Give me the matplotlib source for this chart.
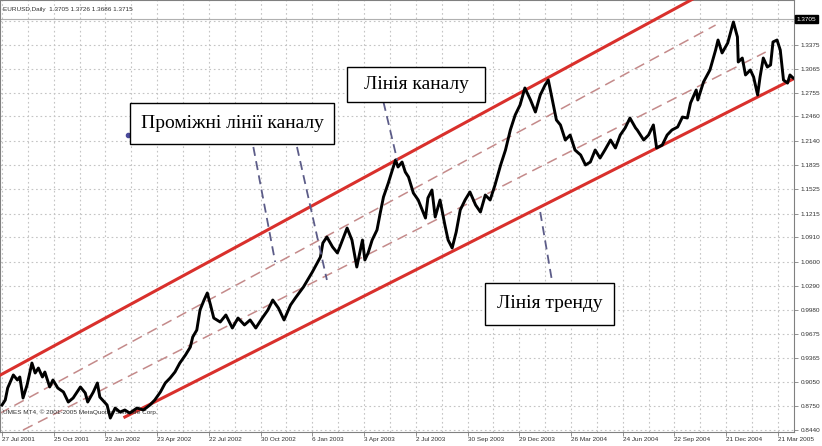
import matplotlib
matplotlib.use("Agg")
import matplotlib.pyplot as plt
from matplotlib.patches import Rectangle

W, H = 822, 446

# EURUSD daily (bar index, price)
bars = [0, 4, 7, 14, 19, 22, 26, 31, 37, 41, 45, 50, 53, 59, 63, 69, 76, 82, 88, 97,
        103, 106, 113, 118, 121, 130, 134, 140, 146, 152, 158, 167, 175, 183, 189, 196, 202, 208, 214, 220,
        227, 233, 236, 241, 245, 250, 254, 258, 262, 270, 277, 285, 292, 300, 307, 314, 322, 329, 335, 342,
        349, 357, 363, 373, 384, 394, 397, 402, 409, 415, 418, 427, 433, 439, 446, 449, 453, 458, 464, 468,
        472, 478, 483, 487, 490, 495, 499, 503, 509, 515, 520, 524, 527, 532, 536, 542, 548, 552, 557, 562,
        567, 573, 579, 586, 592, 598, 604, 610, 617, 623, 629, 635, 641, 647, 654, 660, 666, 672, 676, 681,
        686, 691, 697, 703, 709, 716, 722, 728, 734, 740, 746, 753, 759, 765, 771, 777, 784, 786, 794, 800,
        806, 810, 817, 823, 829, 836, 842, 848, 852, 859, 861, 868, 876, 883, 886, 891, 898, 904, 905, 910,
        911, 916, 920, 926, 930, 935, 938, 942, 947, 951, 954, 959, 963, 967, 972, 975, 979]
prices = [0.8761, 0.8825, 0.8979, 0.9146, 0.9082, 0.9120, 0.8851, 0.9017, 0.9299, 0.9171,
          0.9235, 0.9120, 0.9184, 0.8992, 0.9082, 0.8979, 0.8928, 0.8799, 0.8851, 0.8992,
          0.8915, 0.8799, 0.8928, 0.9043, 0.8863, 0.8761, 0.8594, 0.8722, 0.8671, 0.8697,
          0.8658, 0.8722, 0.8697, 0.8761, 0.8825, 0.8928, 0.9043, 0.9107, 0.9184, 0.9299,
          0.9402, 0.9504, 0.9633, 0.9722, 0.9979, 1.0107, 1.0197, 1.0043, 0.9876, 0.9825,
          0.9915, 0.9748, 0.9876, 0.9787, 0.9851, 0.9748, 0.9876, 0.9979, 1.0107, 1.0004,
          0.9851, 1.0043, 1.0133, 1.0274, 1.0466, 1.0658, 1.0838, 1.0915, 1.0787, 1.0710,
          1.0787, 1.1030, 1.0876, 1.0530, 1.0876, 1.0620, 1.0710, 1.0876, 1.1005, 1.1222,
          1.1427, 1.1607, 1.1774, 1.1902, 1.1812, 1.1876, 1.1748, 1.1684, 1.1479, 1.1389,
          1.1261, 1.1158, 1.1415, 1.1517, 1.1171, 1.1389, 1.1069, 1.0876, 1.0774, 1.0979,
          1.1261, 1.1389, 1.1492, 1.1325, 1.1235, 1.1453, 1.1389, 1.1581, 1.1838, 1.2030,
          1.2287, 1.2479, 1.2607, 1.2825, 1.2671, 1.2517, 1.2735, 1.2863, 1.2927, 1.2671,
          1.2415, 1.2351, 1.2158, 1.2222, 1.2030, 1.1966, 1.1838, 1.1876, 1.2030, 1.1927,
          1.2030, 1.2158, 1.2056, 1.2222, 1.2312, 1.2440, 1.2312, 1.2287, 1.2158, 1.2222,
          1.2351, 1.2056, 1.2094, 1.2222, 1.2287, 1.2325, 1.2453, 1.2440, 1.2633, 1.2799,
          1.2671, 1.2902, 1.3056, 1.3312, 1.3440, 1.3274, 1.3402, 1.3632, 1.3671, 1.3479,
          1.3158, 1.3209, 1.2992, 1.3056, 1.2966, 1.2735, 1.2966, 1.3209, 1.3094, 1.3120,
          1.3415, 1.3440, 1.3312, 1.2927, 1.2888, 1.2992, 1.2953]

# channel lines (start bar, start price, end bar, end price)
upper_channel = [-3, 0.9140, 864, 1.4017]
trend_line = [152, 0.8607, 979, 1.2940]
mid_upper = [-3, 0.8652, 883, 1.3632]
mid_lower = [26, 0.8440, 945, 1.3286]

# pointer lines of the callouts
pointers = [
    [311, 1.2069, 338, 1.0594],
    [365, 1.2069, 402, 1.0364],
    [472, 1.2645, 489, 1.1902],
    [666, 1.1235, 681, 1.0325],
]

xtick_labels = ["27 Jul 2001", "25 Oct 2001", "23 Jan 2002", "23 Apr 2002", "22 Jul 2002",
                "30 Oct 2002", "6 Jan 2003", "3 Apr 2003", "2 Jul 2003", "30 Sep 2003",
                "29 Dec 2003", "26 Mar 2004", "24 Jun 2004", "22 Sep 2004", "21 Dec 2004",
                "21 Mar 2005"]
ytick_labels = ["1.3375", "1.3065", "1.2755", "1.2460", "1.2140", "1.1835", "1.1525", "1.1215",
                "1.0910", "1.0600", "1.0290", "0.9980", "0.9675", "0.9365", "0.9050", "0.8750",
                "0.8440"]
bid = 1.3705

fig = plt.figure(figsize=(W / 100, H / 100), dpi=100)
ax = fig.add_axes([0, 14 / H, 794 / W, 432 / H])
ax.set_xlim(-2.5, 980)
ax.set_ylim(0.8415, 1.3953)

# grid
grid_kw = dict(color="#c4c4c4", linestyle=(0, (1.5, 2.5)), linewidth=0.8, zorder=0)
for i in range(31):
    ax.axvline(32 * i, **grid_kw)
for v in ytick_labels + ["1.3685"]:
    ax.axhline(float(v), **grid_kw)
ax.axhline(bid, color="#b0b0b0", linewidth=0.8, zorder=0)

# channel
ax.plot(upper_channel[0::2], upper_channel[1::2], color="#d9302c", lw=2.2, zorder=3)
ax.plot(trend_line[0::2], trend_line[1::2], color="#d9302c", lw=2.2, zorder=3)
for ln in (mid_upper, mid_lower):
    ax.plot(ln[0::2], ln[1::2], color="#c48a8a", lw=1.1, dashes=(7, 4), zorder=2)

ax.plot(bars, prices, color="black", lw=2.1, zorder=4)

for p in pointers:
    ax.plot(p[0::2], p[1::2], color="#5c5c88", lw=1.3, dashes=(5, 3), zorder=5)
ax.plot([156], [1.2222], "o", color="#4a4a9a", ms=3, zorder=5)

# axes styling
for s in ax.spines.values():
    s.set_color("#808080")
    s.set_linewidth(0.8)
ax.yaxis.tick_right()
ax.set_yticks([float(v) for v in ytick_labels])
ax.set_yticklabels(ytick_labels)
ax.set_xticks([64 * i for i in range(len(xtick_labels))])
ax.set_xticklabels(xtick_labels, ha="left")
ax.tick_params(axis="y", length=3, width=0.6, color="#808080", pad=1.5,
               labelsize=4.6, labelcolor="#303030")
ax.tick_params(axis="x", length=3, width=0.6, color="#808080", pad=0.5,
               labelsize=4.6, labelcolor="#303030")
for lab in ax.get_xticklabels() + ax.get_yticklabels():
    lab.set_fontfamily("Liberation Sans")

ax.text(1.003, (bid - 0.8415) / (1.3953 - 0.8415), f"{bid:.4f}", transform=ax.transAxes,
        fontsize=4.6, color="white", va="center", ha="left", family="Liberation Sans",
        bbox=dict(boxstyle="square,pad=0.25", fc="black", ec="black"))

ax.text(3 / 794, 1 - 9 / 432, "EURUSD,Daily  1.3705 1.3726 1.3686 1.3715", transform=ax.transAxes,
        fontsize=4.6, color="#303030", va="center", ha="left", family="Liberation Sans")
ax.text(3 / 794, 1 - 412 / 432, "UMES MT4, \u00a9 2001-2005 MetaQuotes Software Corp.",
        transform=ax.transAxes, fontsize=4.6, color="#303030", va="center", ha="left",
        family="Liberation Sans")

# callout boxes: (left, top, right, bottom) in pixels, text
callouts = [
    ((130, 103, 334, 144), "Проміжні лінії каналу"),
    ((347, 67, 485, 102), "Лінія каналу"),
    ((485, 283, 614, 325), "Лінія тренду"),
]
for (l, t, r, b), txt in callouts:
    fig.patches.append(Rectangle((l / W, 1 - b / H), (r - l) / W, (b - t) / H,
                                 transform=fig.transFigure, fc="white", ec="black",
                                 lw=1.0, zorder=10))
    fig.text((l + r) / 2 / W, 1 - (t + b) / 2 / H, txt, ha="center", va="center",
             fontsize=14, family="Liberation Serif", color="black", zorder=11)

fig.savefig("out.png", dpi=100)
